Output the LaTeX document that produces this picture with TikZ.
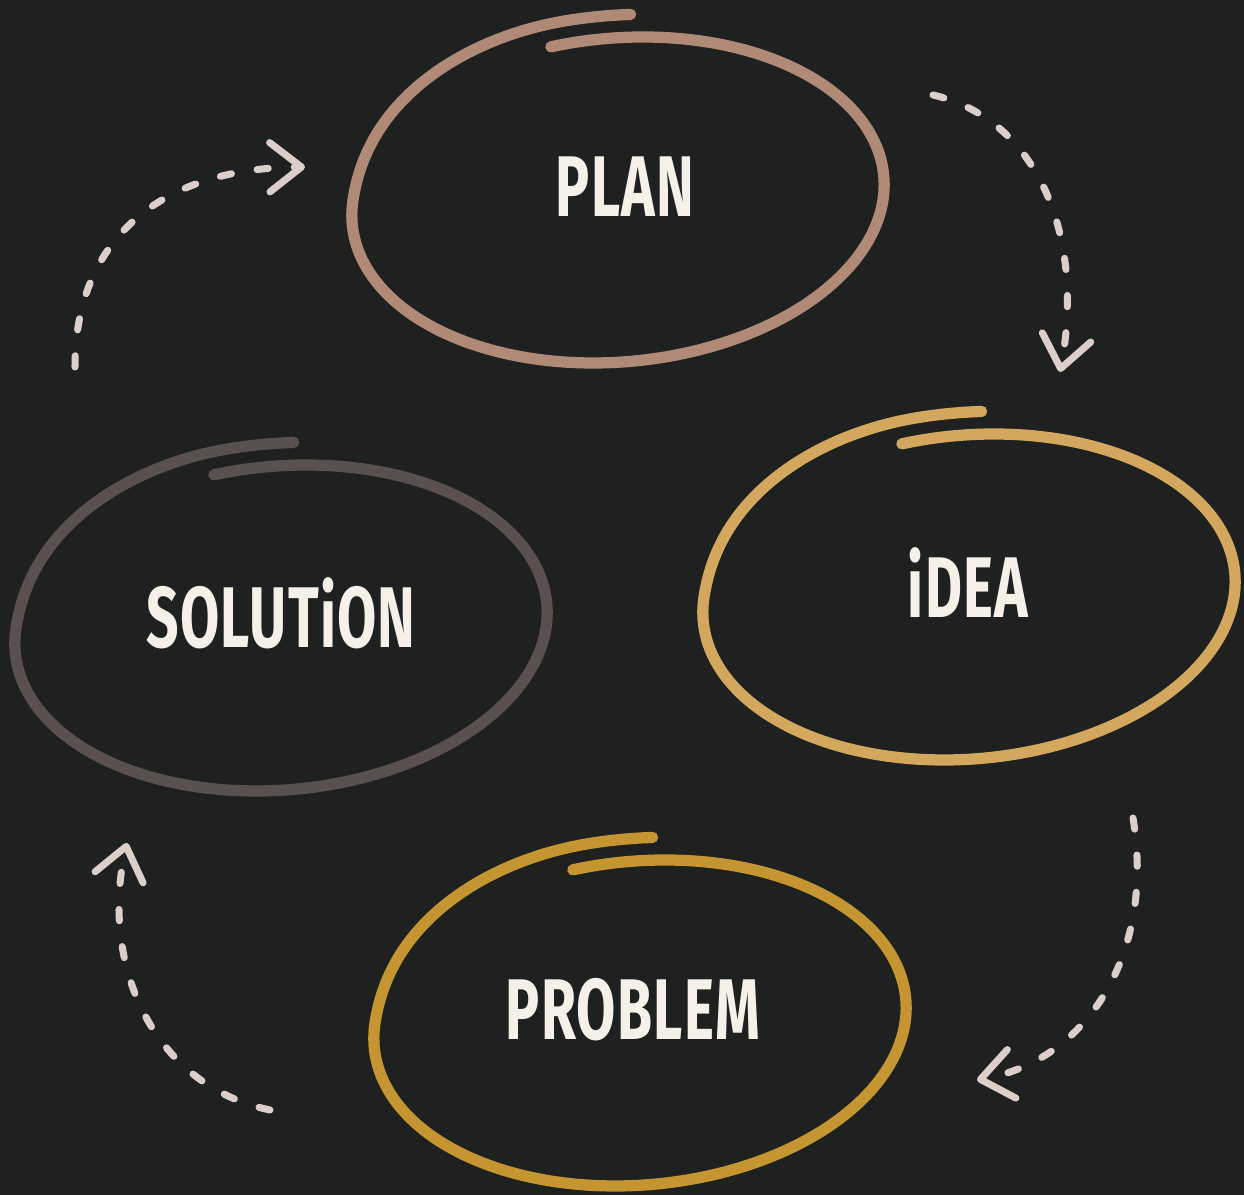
\documentclass[tikz,border=0pt]{standalone}
\usepackage{fontspec}
\newfontfamily\ringfont{Fira Sans}[FakeStretch=0.66, LetterSpace=1.5]
\usetikzlibrary{positioning, arrows.meta}

\definecolor{board}{HTML}{1E2120}
\definecolor{plancol}{HTML}{B08A76}
\definecolor{ideacol}{HTML}{D3A75E}
\definecolor{solcol}{HTML}{5B5050}
\definecolor{probcol}{HTML}{C49530}
\definecolor{chalk}{HTML}{F5F0E8}
\definecolor{flowcol}{HTML}{DCCEC8}

\newcommand{\ringat}[3]{\draw[ring, #3] plot[domain=250:627, samples=140, smooth]
  ({#1+(1+0.14*(min(1,max(0,(\x-540)/75)))^2*(3-2*min(1,max(0,(\x-540)/75))))*(265*cos(\x)-25*sin(\x))},
   {#2+(1+0.14*(min(1,max(0,(\x-540)/75)))^2*(3-2*min(1,max(0,(\x-540)/75))))*163*sin(\x)});}

\begin{document}
\begin{tikzpicture}[x=0.01cm, y=-0.01cm,
						ring/.style={line width=3.2pt, line cap=round, line join=round},
						tag/.style={text=chalk, font=\ringfont\bfseries\fontsize{24.5}{24.5}\selectfont},
						flow/.style={flowcol, line width=2pt, line cap=round, dash pattern=on 3.2pt off 7.4pt,
							-{Straight Barb[length=9pt, width=14pt, round]}}]
						\fill[board] (0,0) rectangle (1244,1195);
						\useasboundingbox (0,0) rectangle (1244,1195);
						\ringat{618}{200}{plancol}
						\ringat{969}{597}{ideacol}
						\ringat{281}{628}{solcol}
						\ringat{640}{1023}{probcol}
						\node[tag] (plan) at (625,187) {PLAN};
						\node[tag] (idea) at (968,583) {iDEA};
						\node[tag] (solution) at (281,613) {SOLUTiON};
						\node[tag] (problem) at (633,1010) {PROBLEM};
						\coordinate (sp) at (75,367);
						\coordinate (pl) at (305,167);
						\coordinate (pi) at (933,95);
						\coordinate (ip) at (1060,372);
						\coordinate (ib) at (1133,818);
						\coordinate (bi) at (977,1080);
						\coordinate (bs) at (270,1110);
						\coordinate (sb) at (127,843);
						\draw[flow] (sp) .. controls (75,240) and (160,168) .. (pl);
						\draw[flow] (pi) .. controls (1040,120) and (1085,240) .. (ip);
						\draw[flow] (ib) .. controls (1155,950) and (1090,1060) .. (bi);
						\draw[flow] (bs) .. controls (150,1085) and (100,960) .. (sb);
					\end{tikzpicture}
\end{document}
